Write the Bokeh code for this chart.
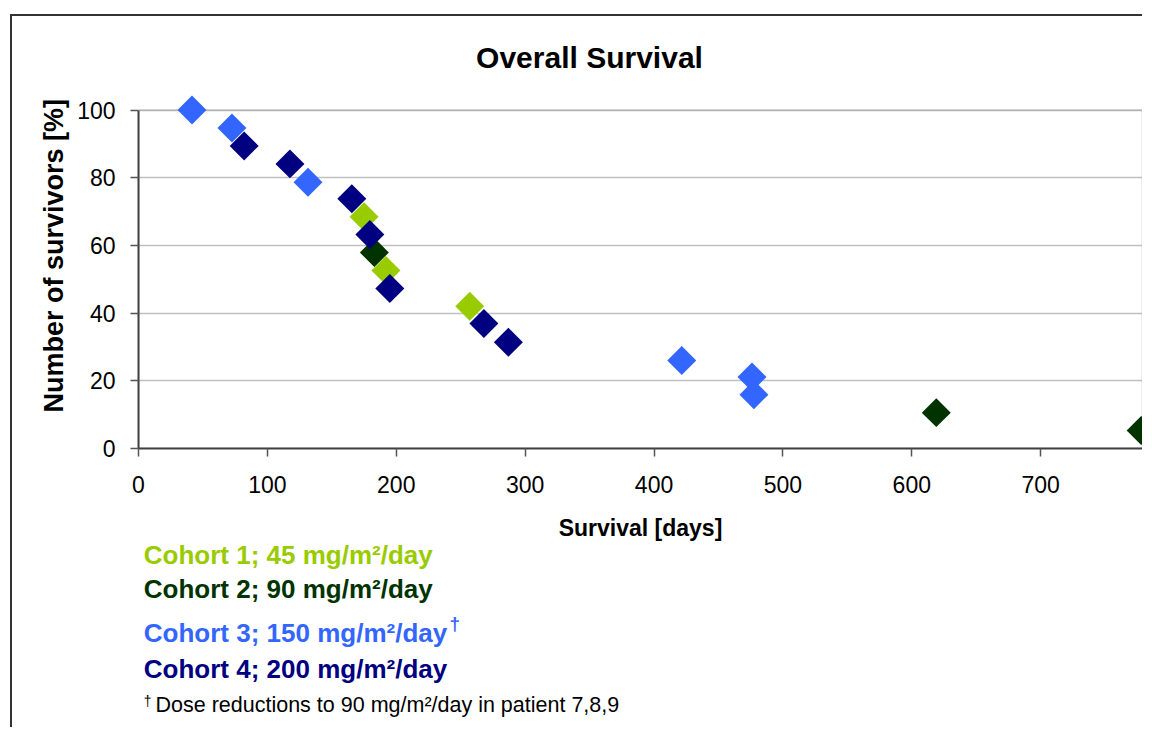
import math
from bokeh.plotting import figure
from bokeh.layouts import column
from bokeh.models import FixedTicker, Range1d, Title, BoxAnnotation
from bokeh.core.properties import value
from bokeh.embed import file_html
from bokeh.resources import INLINE

# ---- data ----
cohort1_days = [175, 192, 257]
cohort1_surv = [68.5, 52.6, 42.0]
cohort2_days = [183, 619, 778]
cohort2_surv = [57.9, 10.6, 5.3]
cohort3_days = [41.5, 72.5, 131.5, 421.5, 476, 477.5]
cohort3_surv = [100, 94.7, 78.7, 26.0, 21.1, 15.9]
cohort4_days = [82, 117.5, 165.5, 179.5, 195, 268, 287]
cohort4_surv = [89.4, 84.1, 73.8, 63.2, 47.3, 36.9, 31.4]

x_ticks = [0, 100, 200, 300, 400, 500, 600, 700]
y_ticks = [0, 20, 40, 60, 80, 100]
x_max = 779
y_max = 100

cohort_names = [
    "Cohort 1; 45 mg/m²/day",
    "Cohort 2; 90 mg/m²/day",
    "Cohort 3; 150 mg/m²/day",
    "Cohort 4; 200 mg/m²/day",
]
cohort_colors = ["#99CC00", "#003300", "#3366FF", "#000080"]
footnote = "Dose reductions to 90 mg/m²/day in patient 7,8,9"
chart_title = "Overall Survival"
x_title = "Survival [days]"
y_title = "Number of survivors [%]"

FONT = "Liberation Sans"
W = 1130          # canvas width of every panel
FRAME_LEFT = 126  # left border of the plot frame (shared by all panels)


def text_panel(h):
    # frames are aligned with the main chart, so map the range to canvas pixels
    f = figure(width=W, height=h, x_range=Range1d(FRAME_LEFT, W), y_range=Range1d(h, 0),
               output_backend="svg", toolbar_location=None,
               x_axis_type=None, y_axis_type=None,
               min_border_left=FRAME_LEFT, min_border_right=0,
               min_border_top=0, min_border_bottom=0,
               background_fill_color="white", border_fill_color="white")
    f.title.visible = False
    f.grid.visible = False
    f.outline_line_color = None
    return f


# ---- title panel ----
t = text_panel(74)
t.text(x=[577], y=[40.7], text=[chart_title], text_font=value(FONT),
       text_font_size=value("30px"), text_font_style="bold", text_color="black",
       text_align="center", text_baseline="alphabetic")

# ---- main chart ----
p = figure(
    width=W, height=415,
    x_range=Range1d(0, x_max), y_range=Range1d(0, 104.6),
    output_backend="svg", toolbar_location=None,
    min_border_left=FRAME_LEFT, min_border_right=0, min_border_top=4, min_border_bottom=57,
    background_fill_color="white", border_fill_color="white",
)
p.title.visible = False
p.outline_line_color = None

p.xgrid.visible = False
p.ygrid.grid_line_color = "#c0c0c0"
p.ygrid.grid_line_width = 1.5

# plot-area border (top and right edges gray, like the reference)
p.add_layout(BoxAnnotation(left=0, right=x_max, bottom=0, top=y_max,
                           fill_color=None, line_color="#8c8c8c", line_width=2,
                           level="underlay"))

for ax in (p.xaxis, p.yaxis):
    ax.axis_line_color = "#404040"
    ax.axis_line_width = 2
    ax.major_tick_line_color = "#555555"
    ax.major_tick_line_width = 1.5
    ax.major_tick_in = 0
    ax.major_tick_out = 8
    ax.minor_tick_line_color = None
    ax.major_label_text_font = FONT
    ax.major_label_text_font_size = "23px"
    ax.major_label_text_color = "black"

p.xaxis.ticker = FixedTicker(ticks=x_ticks)
p.yaxis.ticker = FixedTicker(ticks=y_ticks)
p.xaxis.bounds = (0, x_max)
p.yaxis.bounds = (0, y_max)
p.xaxis.major_label_standoff = 19
p.yaxis.major_label_standoff = 15

p.add_layout(Title(text=y_title, align="left", offset=36, standoff=12,
                   text_font=FONT, text_font_size="27px", text_font_style="bold",
                   text_color="black"), "left")

series = [
    (cohort1_days, cohort1_surv, cohort_colors[0]),
    (cohort2_days, cohort2_surv, cohort_colors[1]),
    (cohort3_days, cohort3_surv, cohort_colors[2]),
    (cohort4_days, cohort4_surv, cohort_colors[3]),
]
for xs, ys, col in series:
    p.scatter(xs, ys, marker="square", angle=math.pi / 4, size=20.5,
              fill_color=col, line_color=None)

# ---- x title, legend and footnote panel ----
q = text_panel(222)
q.text(x=[628], y=[22.7], text=[x_title], text_color="black",
       text_font=value(FONT), text_font_size=value("23px"), text_font_style="bold",
       text_align="center", text_baseline="alphabetic")
legend_x = [131.3, 131.3, 131.3, 131.3]
legend_base = [49.9, 83.9, 127.3, 163.9]
q.text(x=legend_x, y=legend_base, text=cohort_names, text_color=cohort_colors,
       text_font=value(FONT), text_font_size=value("26px"), text_font_style="bold",
       text_align="left", text_baseline="alphabetic")
q.text(x=[437], y=[118.2], text=["†"], text_color=cohort_colors[2],
       text_font=value(FONT), text_font_size=value("19px"), text_font_style="bold",
       text_align="left", text_baseline="alphabetic")
q.text(x=[131.3], y=[195], text=["†"], text_color="black",
       text_font=value(FONT), text_font_size=value("14px"),
       text_align="left", text_baseline="alphabetic")
q.text(x=[143], y=[199], text=[footnote], text_color="black",
       text_font=value(FONT), text_font_size=value("21.5px"),
       text_align="left", text_baseline="alphabetic")

layout = column(t, p, q, spacing=0,
                styles={"margin-left": "10px", "margin-top": "14px",
                        "border-left": "2px solid #333333",
                        "border-top": "2px solid #333333"})

open("out.html", "w").write(file_html(layout, INLINE))
